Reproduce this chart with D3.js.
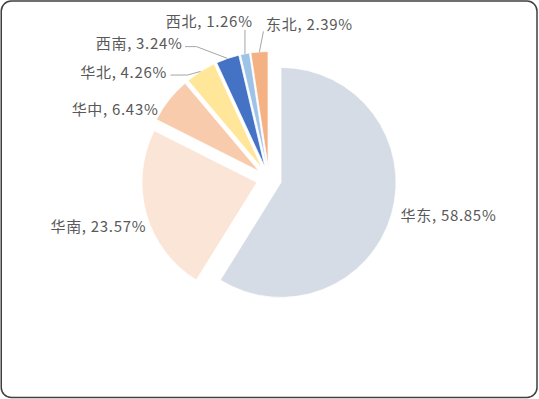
<!DOCTYPE html>
<html>
<head>
<meta charset="utf-8">
<script src="https://cdn.jsdelivr.net/npm/d3@7"></script>
<style>
  html, body { margin: 0; padding: 0; background: #fff; }
  svg { display: block; }
  .lbl { font-family: "Noto Sans CJK SC", "Noto Sans", sans-serif; font-size: 15px; fill: #595959; letter-spacing: 0.7px; }
</style>
</head>
<body>
<script>
// Regional share of sales, clockwise from 12 o'clock
const regions = ["华东", "华南", "华中", "华北", "西南", "西北", "东北"];
const shares  = [58.85, 23.57, 6.43, 4.26, 3.24, 1.26, 2.39];
const colors  = ["#D6DCE5", "#FBE5D6", "#F8CBAD", "#FFE699", "#4472C4", "#9DC3E6", "#F4B183"];

// Label placement relative to each slice's outer mid-point
// anchor, dx, dy for the text; leader: list of offsets (from the outer point) for the leader polyline start
const labelLayout = [
  { anchor: "start", dx: 9,     dy: 1,    leader: null },
  { anchor: "end",   dx: 0,     dy: 11.5, leader: null },
  { anchor: "end",   dx: -10.5, dy: 8.3,  leader: null },
  { anchor: "end",   dx: -33.5, dy: 0.3,  leader: [[-30, 3.6], [-13, 3.6]] },
  { anchor: "end",   dx: -45,   dy: -15.7, leader: [[-42.5, -11.8], [-31, -11.8]] },
  { anchor: "end",   dx: 7.7,   dy: -33.8, leader: [[0, -24]] },
  { anchor: "start", dx: 6.6,   dy: -28.4, leader: [[4, -20.5]] }
];

const W = 539, H = 399;
const cx = 269, cy = 179, radius = 115, explode = 12.5;

const svg = d3.select("body").append("svg")
  .attr("width", W).attr("height", H);

svg.append("rect")
  .attr("x", 1.25).attr("y", 1).attr("width", 535.75).attr("height", 396.5)
  .attr("rx", 10).attr("ry", 10)
  .attr("fill", "#fff").attr("stroke", "#3f3f3f").attr("stroke-width", 1.5);

const data = regions.map((r, i) => ({ region: r, share: shares[i], color: colors[i], layout: labelLayout[i] }));

const pie = d3.pie().value(d => d.share).sort(null);
const arcs = pie(data);
const arc = d3.arc().innerRadius(0).outerRadius(radius);

const g = svg.append("g").attr("transform", `translate(${cx},${cy})`);

const mid = a => (a.startAngle + a.endAngle) / 2;

g.selectAll("path.slice")
  .data(arcs)
  .join("path")
  .attr("class", "slice")
  .attr("transform", a => `translate(${explode * Math.sin(mid(a))},${-explode * Math.cos(mid(a))})`)
  .attr("d", arc)
  .attr("fill", a => a.data.color)
  .attr("stroke", "#fff")
  .attr("stroke-width", 0.75);

// outer point of each exploded slice along its bisector
const outerPoint = a => {
  const m = mid(a), rr = radius + explode;
  return [rr * Math.sin(m), -rr * Math.cos(m)];
};

const line = d3.line();
g.selectAll("path.leader")
  .data(arcs.filter(a => a.data.layout.leader))
  .join("path")
  .attr("class", "leader")
  .attr("d", a => {
    const [ox, oy] = outerPoint(a);
    const pts = a.data.layout.leader.map(([dx, dy]) => [ox + dx, oy + dy]);
    pts.push([ox, oy]);
    return line(pts);
  })
  .attr("fill", "none")
  .attr("stroke", "#A6A6A6")
  .attr("stroke-width", 1);

g.selectAll("text.lbl")
  .data(arcs)
  .join("text")
  .attr("class", "lbl")
  .attr("x", a => outerPoint(a)[0] + a.data.layout.dx)
  .attr("y", a => outerPoint(a)[1] + a.data.layout.dy)
  .attr("text-anchor", a => a.data.layout.anchor)
  .attr("dominant-baseline", "central")
  .text(a => `${a.data.region}, ${d3.format(".2f")(a.data.share)}%`);
</script>
</body>
</html>
